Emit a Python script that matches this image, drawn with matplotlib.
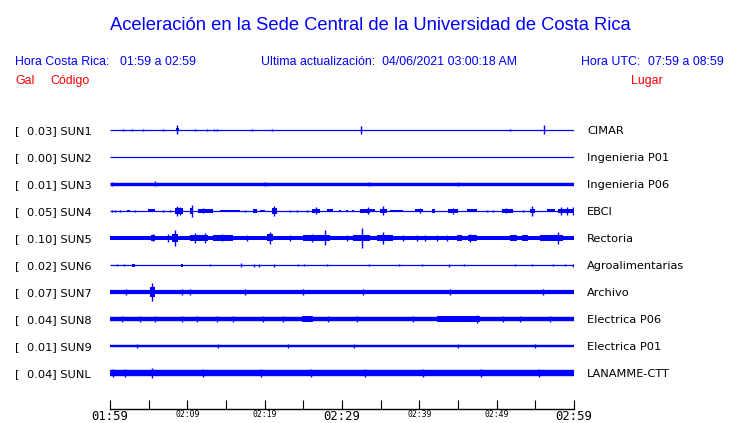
import matplotlib
matplotlib.use("Agg")
import matplotlib.pyplot as plt

# station info
codes = ['SUN1', 'SUN2', 'SUN3', 'SUN4', 'SUN5', 'SUN6', 'SUN7', 'SUN8', 'SUN9', 'SUNL']
gal = [0.03, 0.00, 0.01, 0.05, 0.10, 0.02, 0.07, 0.04, 0.01, 0.04]
places = ['CIMAR', 'Ingenieria P01', 'Ingenieria P06', 'EBCI', 'Rectoria',
          'Agroalimentarias', 'Archivo', 'Electrica P06', 'Electrica P01', 'LANAMME-CTT']

# background noise half-width of each trace (pixels of deflection)
noise = [0.5, 0.5, 1.7, 0.5, 2.0, 0.5, 2.1, 2.2, 1.2, 3.2]

# bursts: (start min, end min, half amplitude px), minutes after 01:59
bursts = {
    'SUN1': [(8.5, 8.9, 1.5)],
    'SUN4': [(2.2, 2.6, 1.2), (4.9, 5.8, 1.5), (8.4, 9.4, 3.0), (10.3, 10.7, 3.0),
             (11.4, 13.3, 1.6), (14.2, 16.8, 1.3), (18.5, 19.0, 1.6), (19.4, 20.0, 1.2),
             (20.9, 21.6, 2.6), (26.1, 27.2, 2.0), (28.1, 28.8, 1.5), (29.6, 29.9, 1.2),
             (30.5, 30.8, 1.2), (31.3, 31.6, 1.2), (32.3, 33.6, 2.0), (33.6, 34.3, 1.5),
             (34.9, 35.8, 2.3), (36.2, 37.9, 1.3), (39.4, 40.5, 1.5), (41.6, 42.0, 2.3),
             (43.7, 45.0, 2.0), (46.2, 47.5, 1.5), (50.7, 52.1, 1.6), (54.3, 55.0, 2.3),
             (56.5, 57.5, 1.5), (57.9, 60.0, 2.0)],
    'SUN5': [(0.0, 3.9, 2.3), (5.3, 5.8, 2.7), (8.0, 8.8, 4.0), (10.3, 12.7, 3.0),
             (13.3, 15.9, 2.6), (19.0, 19.8, 2.4), (20.3, 21.1, 3.5), (25.0, 28.4, 2.8),
             (31.4, 33.6, 3.3), (34.5, 36.6, 3.3), (44.9, 45.5, 2.8), (46.3, 47.5, 3.0),
             (51.7, 52.6, 2.8), (53.3, 54.1, 2.8), (55.6, 56.9, 2.8), (56.9, 58.6, 3.4),
             (58.6, 60.0, 2.4)],
    'SUN6': [(2.9, 3.2, 1.5), (9.2, 9.5, 1.5)],
    'SUN7': [(5.2, 5.8, 5.0)],
    'SUN8': [(24.8, 26.3, 2.6), (42.3, 47.8, 2.6)],
}

# single spikes: (minute, half amplitude px)
spikes = {
    'SUN1': [(1.7, 1.0), (2.9, 1.3), (4.3, 1.0), (6.8, 1.3), (8.7, 4.5), (11.0, 1.0),
             (12.6, 1.0), (13.5, 1.0), (13.9, 1.0), (18.4, 1.0), (21.0, 1.0), (32.5, 4.0),
             (51.7, 1.0), (56.1, 4.5)],
    'SUN3': [(0.3, 2.3), (5.8, 2.5), (20.0, 2.3), (33.5, 2.3), (45.0, 2.3)],
    'SUN4': [(0.3, 1.0), (0.6, 1.0), (1.3, 1.0), (3.2, 1.0), (6.9, 1.0), (7.8, 1.0),
             (8.7, 5.0), (9.1, 4.0), (10.6, 6.0), (12.0, 2.5), (17.5, 1.3), (21.2, 5.0),
             (23.3, 1.0), (24.2, 1.0), (25.5, 1.0), (26.6, 3.5), (33.4, 3.5), (35.3, 4.5),
             (40.1, 2.5), (44.3, 3.0), (48.8, 1.0), (49.5, 1.0), (51.2, 2.5), (53.4, 1.3),
             (54.6, 5.0), (58.3, 4.0), (59.1, 4.0), (59.9, 4.0)],
    'SUN5': [(5.5, 3.5), (7.5, 4.0), (8.4, 8.0), (11.0, 4.5), (12.3, 5.0), (14.5, 3.5),
             (17.7, 2.6), (20.7, 6.0), (23.3, 2.6), (26.1, 4.0), (27.8, 7.5), (30.6, 2.6),
             (32.6, 10.0), (35.3, 6.0), (37.9, 2.6), (39.7, 2.6), (40.7, 2.6), (42.3, 2.6),
             (43.6, 2.6), (46.6, 4.0), (57.9, 6.0)],
    'SUN6': [(0.9, 1.3), (1.8, 1.3), (12.9, 1.3), (16.9, 1.7), (18.6, 1.5), (19.3, 1.5),
             (21.2, 1.5), (24.3, 1.3), (25.1, 1.3), (28.1, 1.3), (33.5, 1.3), (37.4, 1.3),
             (40.3, 1.3), (43.8, 1.5), (45.8, 1.3), (52.4, 1.3), (54.6, 1.3), (57.3, 1.3),
             (58.8, 1.3), (59.9, 1.5)],
    'SUN7': [(2.1, 2.8), (5.4, 9.0), (9.3, 2.8), (10.3, 2.8), (17.5, 2.8), (25.0, 2.6),
             (32.7, 2.6), (44.0, 3.0), (56.0, 2.8)],
    'SUN8': [(1.6, 3.0), (3.9, 3.0), (5.8, 3.0), (9.3, 3.0), (11.2, 3.2), (13.8, 3.0),
             (15.9, 3.0), (19.8, 3.0), (22.4, 3.0), (28.2, 3.0), (31.9, 3.0), (39.2, 3.0),
             (47.5, 3.7), (50.8, 3.0), (53.0, 3.0), (56.9, 3.0)],
    'SUN9': [(3.5, 1.6), (14.0, 1.6), (23.0, 1.6), (31.5, 1.6), (45.0, 1.6), (55.0, 1.6)],
    'SUNL': [(0.4, 3.8), (1.9, 3.8), (5.4, 5.0), (12.0, 3.8), (19.5, 3.8), (26.0, 3.8),
             (33.0, 3.8), (40.5, 3.8), (48.0, 3.8), (55.5, 3.8)],
}

time_ticks = ['01:59', '02:04', '02:09', '02:14', '02:19', '02:24', '02:29',
              '02:34', '02:39', '02:44', '02:49', '02:54', '02:59']

BLUE = '#0000ff'
RED = '#ff0000'
W, H = 740, 423
ROW = 27.0  # pixels between traces
PT = 0.72   # points per pixel at dpi 100

fig = plt.figure(figsize=(W / 100, H / 100), dpi=100)
fig.patch.set_facecolor('white')

def fx(px):
    return px / W

def fy(py):
    return 1 - py / H

# traces axes: x 110..574 px, rows centred at 130 + 27*i
ax = fig.add_axes([fx(110), fy(130 + 9 * ROW + ROW / 2), fx(574) - fx(110), 10 * ROW / H])
ax.set_xlim(0, 60)
ax.set_ylim(-9.5, 0.5)
ax.axis('off')

for i, code in enumerate(codes):
    y = -i
    ax.hlines(y, 0, 60, color=BLUE, lw=max(0.9, 2 * noise[i] * PT))
    for t0, t1, a in bursts.get(code, []):
        a = a / ROW
        ax.bar(t0, 2 * a, width=t1 - t0, bottom=y - a, align='edge', color=BLUE, lw=0)
    for t, a in spikes.get(code, []):
        a = a / ROW
        ax.vlines(t, y - a, y + a, color=BLUE, lw=1.0)

    base = 134 + ROW * i
    fig.text(fx(15), fy(base), '[', fontsize=8.2, family='DejaVu Sans', va='baseline')
    fig.text(fx(27), fy(base), '%.2f] %s' % (gal[i], code), fontsize=8.2,
             family='DejaVu Sans', va='baseline')
    fig.text(fx(587), fy(base), places[i], fontsize=8.2, family='DejaVu Sans', va='baseline')

# time axis
tax = fig.add_axes([fx(110), fy(409), fx(574) - fx(110), 0.001])
tax.set_xlim(0, 60)
tax.set_ylim(0, 1)
for s in ['left', 'right', 'top']:
    tax.spines[s].set_visible(False)
tax.spines['bottom'].set_linewidth(1.0)
tax.set_yticks([])
tax.set_xticks(range(0, 61, 5))
tax.set_xticklabels([lab if k % 2 == 0 else '' for k, lab in enumerate(time_ticks)])
tax.tick_params(axis='x', direction='in', length=6.5, width=0.8, pad=0.5, color='black')
for k, lab in enumerate(tax.get_xticklabels()):
    lab.set_family('DejaVu Sans Mono')
    lab.set_fontsize(8.8 if k % 6 == 0 else 5.9)

# header
hdr = dict(family='Liberation Sans', color=BLUE, va='baseline')
fig.text(0.5, fy(30), 'Aceleración en la Sede Central de la Universidad de Costa Rica',
         fontsize=13.2, ha='center', **hdr)
fig.text(fx(15), fy(65), 'Hora Costa Rica:', fontsize=8.9, **hdr)
fig.text(fx(120), fy(65), '01:59 a 02:59', fontsize=8.9, **hdr)
fig.text(fx(261), fy(65), 'Ultima actualización:  04/06/2021 03:00:18 AM', fontsize=8.9, **hdr)
fig.text(fx(581), fy(65), 'Hora UTC:', fontsize=8.9, **hdr)
fig.text(fx(724), fy(65), '07:59 a 08:59', fontsize=8.9, ha='right', **hdr)

red = dict(family='Liberation Sans', color=RED, va='baseline', fontsize=8.9)
fig.text(fx(15), fy(84), 'Gal', **red)
fig.text(fx(50), fy(84), 'Código', **red)
fig.text(fx(631), fy(84), 'Lugar', **red)

fig.savefig('out.png', dpi=100)
